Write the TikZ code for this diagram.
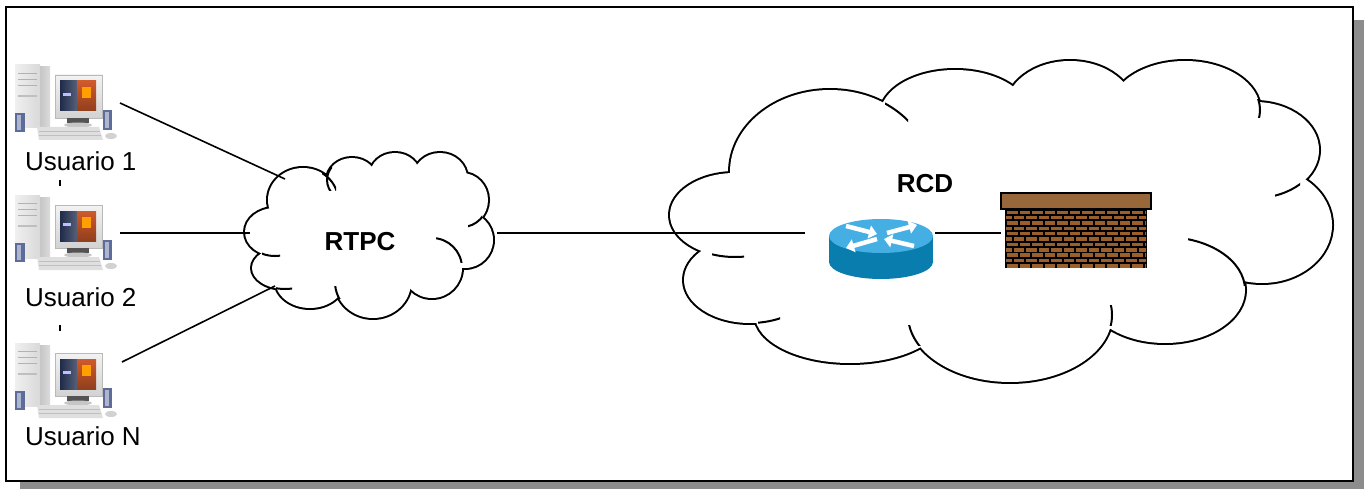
\documentclass[tikz,border=0pt]{standalone}
\usepackage{fontspec}
\setmainfont{Liberation Sans}
\usetikzlibrary{
  arrows.meta,
}

\definecolor{shadowgray}{HTML}{8C8C8C}
\definecolor{routertop}{HTML}{45AEE3}
\definecolor{routerside}{HTML}{087DAE}
\definecolor{capbrown}{HTML}{98683A}
\definecolor{brickbrown}{HTML}{9B5F2C}
\definecolor{speakerblue}{HTML}{5E6C9C}
\definecolor{screenblue}{HTML}{1E2B4A}
\definecolor{screenred}{HTML}{CF5A2A}

\tikzset{
  every node/.style={font=\fontsize{26}{30}\selectfont},
  cloud edge/.style={line width=4pt},
  cloud curl/.style={line width=2pt},
  link/.style={line width=1.6pt},
  routerarrow/.style={white, line width=4.5pt, -{Triangle[length=8pt,width=13pt]}},
  pc/.pic={
    % tower
    \shade[left color=gray!12, right color=gray!30] (0,0) rectangle (25,63);
    \shade[left color=gray!45, right color=gray!28] (25,2) rectangle (35,63);
    \draw[gray!60, line width=0.7pt] (3,8) -- (22,8) (3,14) -- (22,14) (3,20) -- (22,20);
    \fill[gray!50] (3,30) rectangle (22,32);
    % monitor
    \shade[top color=gray!10, bottom color=gray!35] (40,10) rectangle (87,53);
    \draw[gray!55, line width=0.8pt] (40,10) rectangle (87,53);
    \shade[left color=screenblue, right color=screenblue!75!white] (45,16) rectangle (62,46);
    \shade[top color=screenred, bottom color=screenred!70!black] (62,16) rectangle (81,46);
    \fill[orange!75!yellow] (67,22) rectangle (76,33);
    \fill[white!75!blue] (48,28) rectangle (56,31);
    \fill[gray!65!black] (52,53) rectangle (74,58);
    \fill[gray!45] (63,60) ellipse[x radius=14, y radius=2.5];
    % keyboard and mouse
    \fill[gray!25] (22,62) -- (84,62) -- (88,75) -- (24,75) -- cycle;
    \draw[gray!50, line width=0.6pt] (24,66) -- (85,66) (24,70) -- (86,70);
    \fill[gray!35] (96,71) ellipse[x radius=6, y radius=3];
    % speakers
    \fill[speakerblue] (0,48) rectangle (10,67);
    \fill[speakerblue!50!white] (2,50) rectangle (6,65);
    \fill[speakerblue] (88,45) rectangle (97,65);
    \fill[speakerblue!50!white] (90,47) rectangle (94,63);
  },
}

% lumps are ellipses cx/cy/rx/ry, curls are lump/clip box
\newcommand\drawcloud[3]{%
  \foreach \cx/\cy/\rx/\ry in {#1}
    \draw[cloud edge] (\cx,\cy) ellipse[x radius=\rx, y radius=\ry];
  \foreach \cx/\cy/\rx/\ry in {#1}
    \fill[white] (\cx,\cy) ellipse[x radius=\rx, y radius=\ry];
  \fill[white] #2;
  \foreach \cx/\cy/\rx/\ry/\xa/\ya/\xb/\yb in {#3}{
    \begin{scope}
      \clip (\xa,\ya) rectangle (\xb,\yb);
      \draw[cloud curl] (\cx,\cy) ellipse[x radius=\rx, y radius=\ry];
    \end{scope}}%
}

\begin{document}
\begin{tikzpicture}[x=1pt, y=-1pt]
\useasboundingbox (0,0) rectangle (1364,489);

% frame with drop shadow
\fill[shadowgray] (20,20) rectangle (1364,489);
\draw[line width=2pt, fill=white] (6,7) rectangle (1353,481);

% RTPC cloud
\drawcloud{275/232/30/24, 285/268/33/21, 310/280/35/28, 373/282/38/36,
  432/268/30/30, 465/240/28/28, 462/200/26/27, 440/178/27/25,
  395/175/25/22, 352/180/25/22, 303/200/35/32}
 {(375,232) ellipse[x radius=92, y radius=55]}
 {275/232/30/24/262/248/280/262, 285/268/33/21/276/282/292/293,
  303/200/35/32/322/170/336/190, 432/268/30/30/436/234/463/262,
  462/200/26/27/468/212/482/228, 373/282/38/36/334/286/342/298,
  352/180/25/22/326/168/332/190}

% RCD cloud
\drawcloud{735/215/65/42, 750/280/66/43, 850/315/95/48, 1010/315/102/67,
  1165/290/80/53, 1262/225/70/58, 1255/150/64/48, 1185/110/75/49,
  1070/110/65/49, 955/115/75/45, 830/172/100/82}
 {(1000,225) ellipse[x radius=250, y radius=115]}
 {735/215/65/42/712/245/744/262, 750/280/66/43/758/312/780/330,
  830/172/100/82/885/100/908/125, 1255/150/64/48/1275/178/1300/200,
  1165/290/80/53/1188/228/1250/285, 1010/315/102/67/1100/305/1115/325,
  1010/315/102/67/908/325/922/345, 1185/110/75/49/1250/100/1262/118}

% users
\path (15,65) pic {pc} (15,195) pic {pc} (15,343) pic {pc};
\node[anchor=west, inner sep=0] (user1) at (25,161) {Usuario 1};
\node[anchor=west, inner sep=0] (user2) at (25,297) {Usuario 2};
\node[anchor=west, inner sep=0] (usern) at (25,436) {Usuario N};
\draw[line width=1.2pt] (60,180) -- (60,186) (60,325) -- (60,331);

\coordinate (pc1) at (120,103);
\coordinate (pc2) at (120,233);
\coordinate (pcn) at (122,362);
\coordinate (rtpc1) at (285,179);
\coordinate (rtpc2) at (250,233);
\coordinate (rtpcn) at (275,286);
\coordinate (rtpcout) at (497,233);
\coordinate (rcdin) at (805,233);
\coordinate (routerout) at (935,233);
\coordinate (wallin) at (1001,233);

\draw[link] (pc1) -- (rtpc1);
\draw[link] (pc2) -- (rtpc2);
\draw[link] (pcn) -- (rtpcn);
\draw[link] (rtpcout) -- (rcdin);
\draw[link] (routerout) -- (wallin);

\node (rtpc) at (360,242) {\bfseries RTPC};
\node (rcd) at (925,184) {\bfseries RCD};

% router
\fill[routerside] (829,236) rectangle (933,262);
\fill[routerside] (881,262) ellipse[x radius=52, y radius=17];
\fill[routertop] (881,236) ellipse[x radius=52, y radius=17];
\draw[routerarrow] (846,226) -- (877,234);
\draw[routerarrow] (887,233) -- (917,225);
\draw[routerarrow] (877,239) -- (846,248);
\draw[routerarrow] (914,246) -- (884,239);

% firewall
\fill[black] (1005,209) rectangle (1147,268);
\begin{scope}
  \clip (1006,209) rectangle (1146,267);
  \foreach \r in {0,...,10}
    \foreach \c in {0,...,12}
      \fill[brickbrown] ({1007+\c*12.5-mod(\r,2)*6},{210.5+\r*5.36}) rectangle +(10.5,3.5);
\end{scope}
\draw[line width=1.5pt, fill=capbrown] (1001,193) rectangle (1151,209);
\end{tikzpicture}
\end{document}
